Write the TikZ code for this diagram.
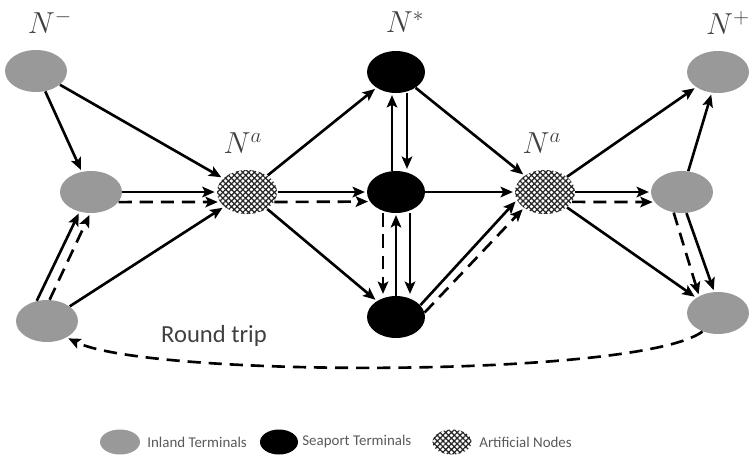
\documentclass[tikz,border=0pt]{standalone}
\usepackage{fontspec}
\newfontfamily\legfont{Carlito}
\usetikzlibrary{shapes.geometric,arrows.meta,patterns.meta}
\definecolor{inland}{RGB}{153,153,153}
\begin{document}
\begin{tikzpicture}[x=0.02cm,y=-0.02cm,
  inlandnode/.style={ellipse, fill=inland, draw=none, inner sep=0pt, minimum width=1.24cm, minimum height=0.84cm},
  seanode/.style={ellipse, fill=black, draw=none, inner sep=0pt, minimum width=1.16cm, minimum height=0.84cm},
  artnode/.style={ellipse, draw=none, inner sep=0pt, minimum width=1.2cm, minimum height=0.88cm,
     pattern={Hatch[angle=45,distance=2.3pt,line width=0.7pt]}, pattern color=black!85},
  lab/.style={text=black!75, font=\fontsize{16.5}{18}\selectfont, inner sep=0pt},
  leg/.style={text=black!65, font=\legfont\fontsize{8.5}{10}\selectfont, inner sep=0pt, anchor=west},
  arr/.style={line width=1.5pt, -{Stealth[length=7pt,width=6pt,inset=1.5pt]}, shorten >=1pt},
  darr/.style={arr, dash pattern=on 7.5pt off 4.5pt}
]
\useasboundingbox (0,0) rectangle (749,461);
% nodes
\node[inlandnode] (L1) at (36,71) {};
\node[inlandnode] (L2) at (91,192) {};
\node[inlandnode] (L3) at (47,321) {};
\node[artnode] (A1) at (247,192) {};
\node[seanode] (S1) at (396,72) {};
\node[seanode] (S2) at (396,192) {};
\node[seanode] (S3) at (396,317) {};
\node[artnode] (A2) at (545,192) {};
\node[inlandnode] (R1) at (718,72) {};
\node[inlandnode] (R2) at (682,192) {};
\node[inlandnode] (R3) at (718,313) {};
% labels
\node[lab] (lm) at (50,22) {$N^-$};
\node[lab] (la1) at (243,143) {$N^a$};
\node[lab] (ls) at (405,22) {$N^{*}$};
\node[lab] (la2) at (542,143) {$N^a$};
\node[lab] (lp) at (728,23) {$N^+$};
\node[text=black!75, font=\legfont\fontsize{14}{16}\selectfont, inner sep=0pt] (rt) at (214,336) {Round trip};
% edges left
\draw[arr] (L1) -- (L2);
\draw[arr] (L1) -- (A1);
\draw[arr] (L2.east) -- (A1.west);
\draw[darr] (L2.-20) -- (A1.200);
\draw[arr] (L3.117) -- (L2.-120);
\draw[darr] (L3.83) -- (L2.-92);
\draw[arr] (L3) -- (A1);
% A1 to seaports
\draw[arr] (A1) -- (S1);
\draw[arr] (A1.east) -- (S2.west);
\draw[darr] (A1.-20) -- (S2.200);
\draw[arr] (A1) -- (S3);
% seaport verticals
\draw[arr] ([xshift=-0.08cm]S2.north) -- ([xshift=-0.08cm]S1.south);
\draw[arr] ([xshift=0.22cm]S1.south) -- ([xshift=0.22cm]S2.north);
\draw[darr] ([xshift=-0.26cm]S2.south) -- ([xshift=-0.26cm]S3.north);
\draw[arr] (S3.north) -- (S2.south);
\draw[arr] ([xshift=0.28cm]S2.south) -- ([xshift=0.28cm]S3.north);
% seaports to A2
\draw[arr] (S1) -- (A2);
\draw[arr] (S2.east) -- (A2.west);
\draw[arr] (S3.26) -- (A2.196);
\draw[darr] (S3.9) -- (A2.217);
% A2 to right
\draw[arr] (A2) -- (R1);
\draw[arr] (A2.east) -- (R2.west);
\draw[darr] (A2.-20) -- (R2.200);
\draw[arr] (A2) -- (R3);
\draw[arr] (R2) -- (R1);
\draw[arr] (R2.-78) -- (R3.100);
\draw[darr] (R2.-112) -- (R3.138);
% round trip
\draw[darr] (R3.-130) .. controls (640,378) and (150,378) .. (L3.-40);
% legend
\node[inlandnode, minimum width=0.8cm, minimum height=0.5cm] (g1) at (120,442) {};
\node[leg] (t1) at (147,442) {Inland Terminals};
\node[seanode, minimum width=0.76cm, minimum height=0.5cm] (g2) at (279,442) {};
\node[leg] (t2) at (302,442) {Seaport Terminals};
\node[artnode, minimum width=0.78cm, minimum height=0.5cm] (g3) at (452,442) {};
\node[leg] (t3) at (479,442) {Artificial Nodes};
\end{tikzpicture}
\end{document}
